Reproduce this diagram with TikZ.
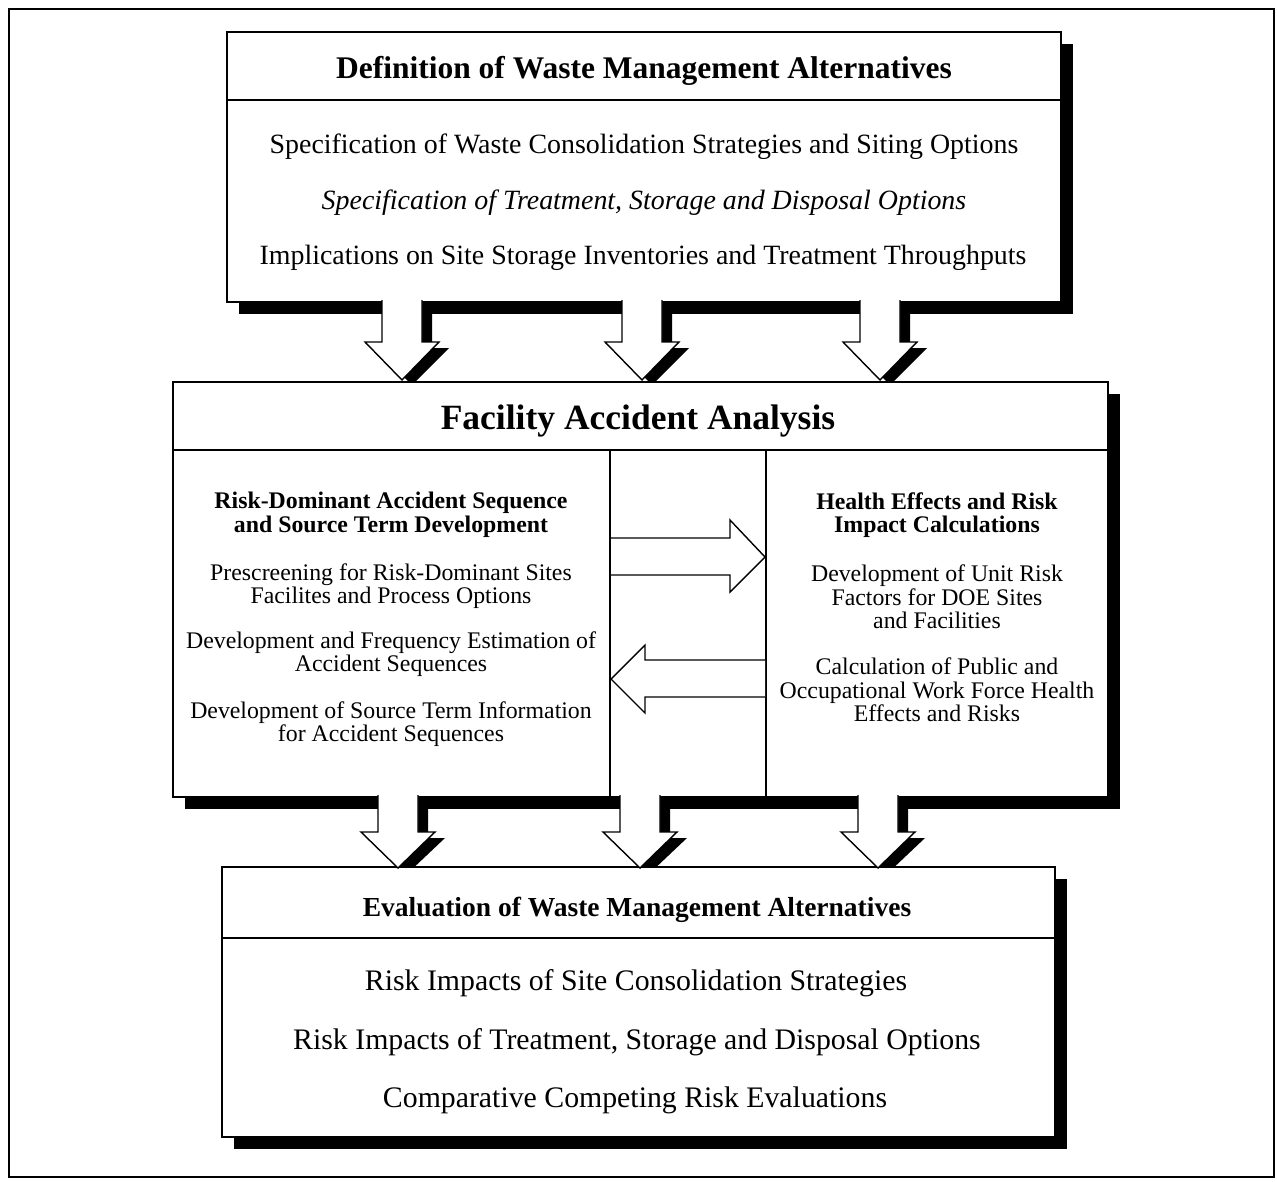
\documentclass[tikz,border=0pt]{standalone}
\usepackage{fontspec}
\setmainfont{Liberation Serif}
\newcommand{\DArr}[4]{%
  \filldraw[arrowline] ({#1-20},{#2-2}) -- ({#1-20},#3) -- ({#1-37},#3) -- (#1,#4) -- ({#1+37},#3) -- ({#1+20},#3) -- ({#1+20},{#2-2});}
\newcommand{\DShd}[4]{%
  \fill[black] ({#1-10},#2) -- ({#1-10},{#3+6}) -- ({#1-27},{#3+6}) -- ({#1+10},{#4+6}) -- ({#1+47},{#3+6}) -- ({#1+30},{#3+6}) -- ({#1+30},#2) -- cycle;}
\begin{document}
\begin{tikzpicture}[x=1pt,y=-1pt,line join=miter]
\tikzset{
  boxframe/.style={draw, line width=1.8pt, fill=white, inner sep=0pt},
  boxshade/.style={fill=black},
  arrowline/.style={draw, fill=white, line width=1.4pt},
  divider/.style={line width=1.5pt},
  bigtitle/.style={font=\fontsize{35.5}{40}\selectfont\bfseries, inner sep=0pt, yshift=-3pt},
  toptitle/.style={font=\fontsize{31.5}{35}\selectfont\bfseries, inner sep=0pt, yshift=-3pt},
  bottitle/.style={font=\fontsize{27.5}{31}\selectfont\bfseries, inner sep=0pt, yshift=-2pt},
  topitem/.style={font=\fontsize{27.9}{31}\selectfont, inner sep=0pt, yshift=-3pt},
  botitem/.style={font=\fontsize{29.8}{33}\selectfont, inner sep=0pt, yshift=-3pt},
  colhead/.style={font=\fontsize{23.8}{23.5}\selectfont\bfseries, align=center, inner sep=0pt, yshift=-2pt},
  colitem/.style={font=\fontsize{23.8}{23.5}\selectfont, align=center, inner sep=0pt, yshift=-2pt},
}
\useasboundingbox (0,0) rectangle (1277,1181);
\draw[line width=2.2pt] (9,9) rectangle (1274,1177);

% top box
\fill[boxshade] (239,44) rectangle (1073,314);
\node[boxframe, minimum width=834pt, minimum height=270pt] (topbox) at (644,167) {};
\draw[divider] (topbox.west |- 0,100) -- (topbox.east |- 0,100);
\node[toptitle] (t0) at (644,68) {Definition of Waste Management Alternatives};
\node[topitem] (t1) at (644,144) {Specification of Waste Consolidation Strategies and Siting Options};
\node[topitem, font=\fontsize{27.9}{31}\selectfont\itshape] (t2) at (644,200) {Specification of Treatment, Storage and Disposal Options};
\node[topitem] (t3) at (643,255) {Implications on Site Storage Inventories and Treatment Throughputs};

% shadows of upper arrows
\foreach \c in {402,642,880} {\DShd{\c}{302}{342}{379}}

% middle box
\fill[boxshade] (185,394) rectangle (1120,809);
\node[boxframe, minimum width=935pt, minimum height=415pt] (midbox) at (640.5,589.5) {};
\draw[divider] (midbox.west |- 0,450) -- (midbox.east |- 0,450);
\draw[divider] (610,450) -- (610,797);
\draw[divider] (766,450) -- (766,797);
\node[bigtitle] (m0) at (638,418) {Facility Accident Analysis};

\node[colhead] (l0) at (391,513) {Risk-Dominant Accident Sequence\\and Source Term Development};
\node[colitem] (l1) at (391,584) {Prescreening for Risk-Dominant Sites\\Facilites and Process Options};
\node[colitem] (l2) at (391,652) {Development and Frequency Estimation of\\Accident Sequences};
\node[colitem] (l3) at (391,722) {Development of Source Term Information\\for Accident Sequences};

\node[colhead] (r0) at (937,513) {Health Effects and Risk\\Impact Calculations};
\node[colitem] (r1) at (937,595) {Development of Unit Risk\\Factors for DOE Sites\\and Facilities};
\node[colitem] (r2) at (937,688) {Calculation of Public and\\Occupational Work Force Health\\Effects and Risks};

% horizontal arrows
\filldraw[arrowline] (611,538) -- (730,538) -- (730,520) -- (765,557) -- (730,592) -- (730,575) -- (611,575);
\filldraw[arrowline] (765,660) -- (645,660) -- (645,645) -- (611,679) -- (645,713) -- (645,697) -- (765,697);

% upper arrows
\foreach \c in {402,642,880} {\DArr{\c}{302}{342}{380}}

% shadows of lower arrows
\foreach \c in {398,640,878} {\DShd{\c}{797}{832}{867}}

% bottom box
\fill[boxshade] (234,879) rectangle (1067,1149);
\node[boxframe, minimum width=833pt, minimum height=270pt] (botbox) at (638.5,1002) {};
\draw[divider] (botbox.west |- 0,938) -- (botbox.east |- 0,938);
\node[bottitle] (b0) at (637,908) {Evaluation of Waste Management Alternatives};
\node[botitem] (b1) at (636,980) {Risk Impacts of Site Consolidation Strategies};
\node[botitem] (b2) at (637,1039) {Risk Impacts of Treatment, Storage and Disposal Options};
\node[botitem] (b3) at (635,1097) {Comparative Competing Risk Evaluations};

% lower arrows
\foreach \c in {398,640,878} {\DArr{\c}{797}{832}{868}}
\end{tikzpicture}
\end{document}
